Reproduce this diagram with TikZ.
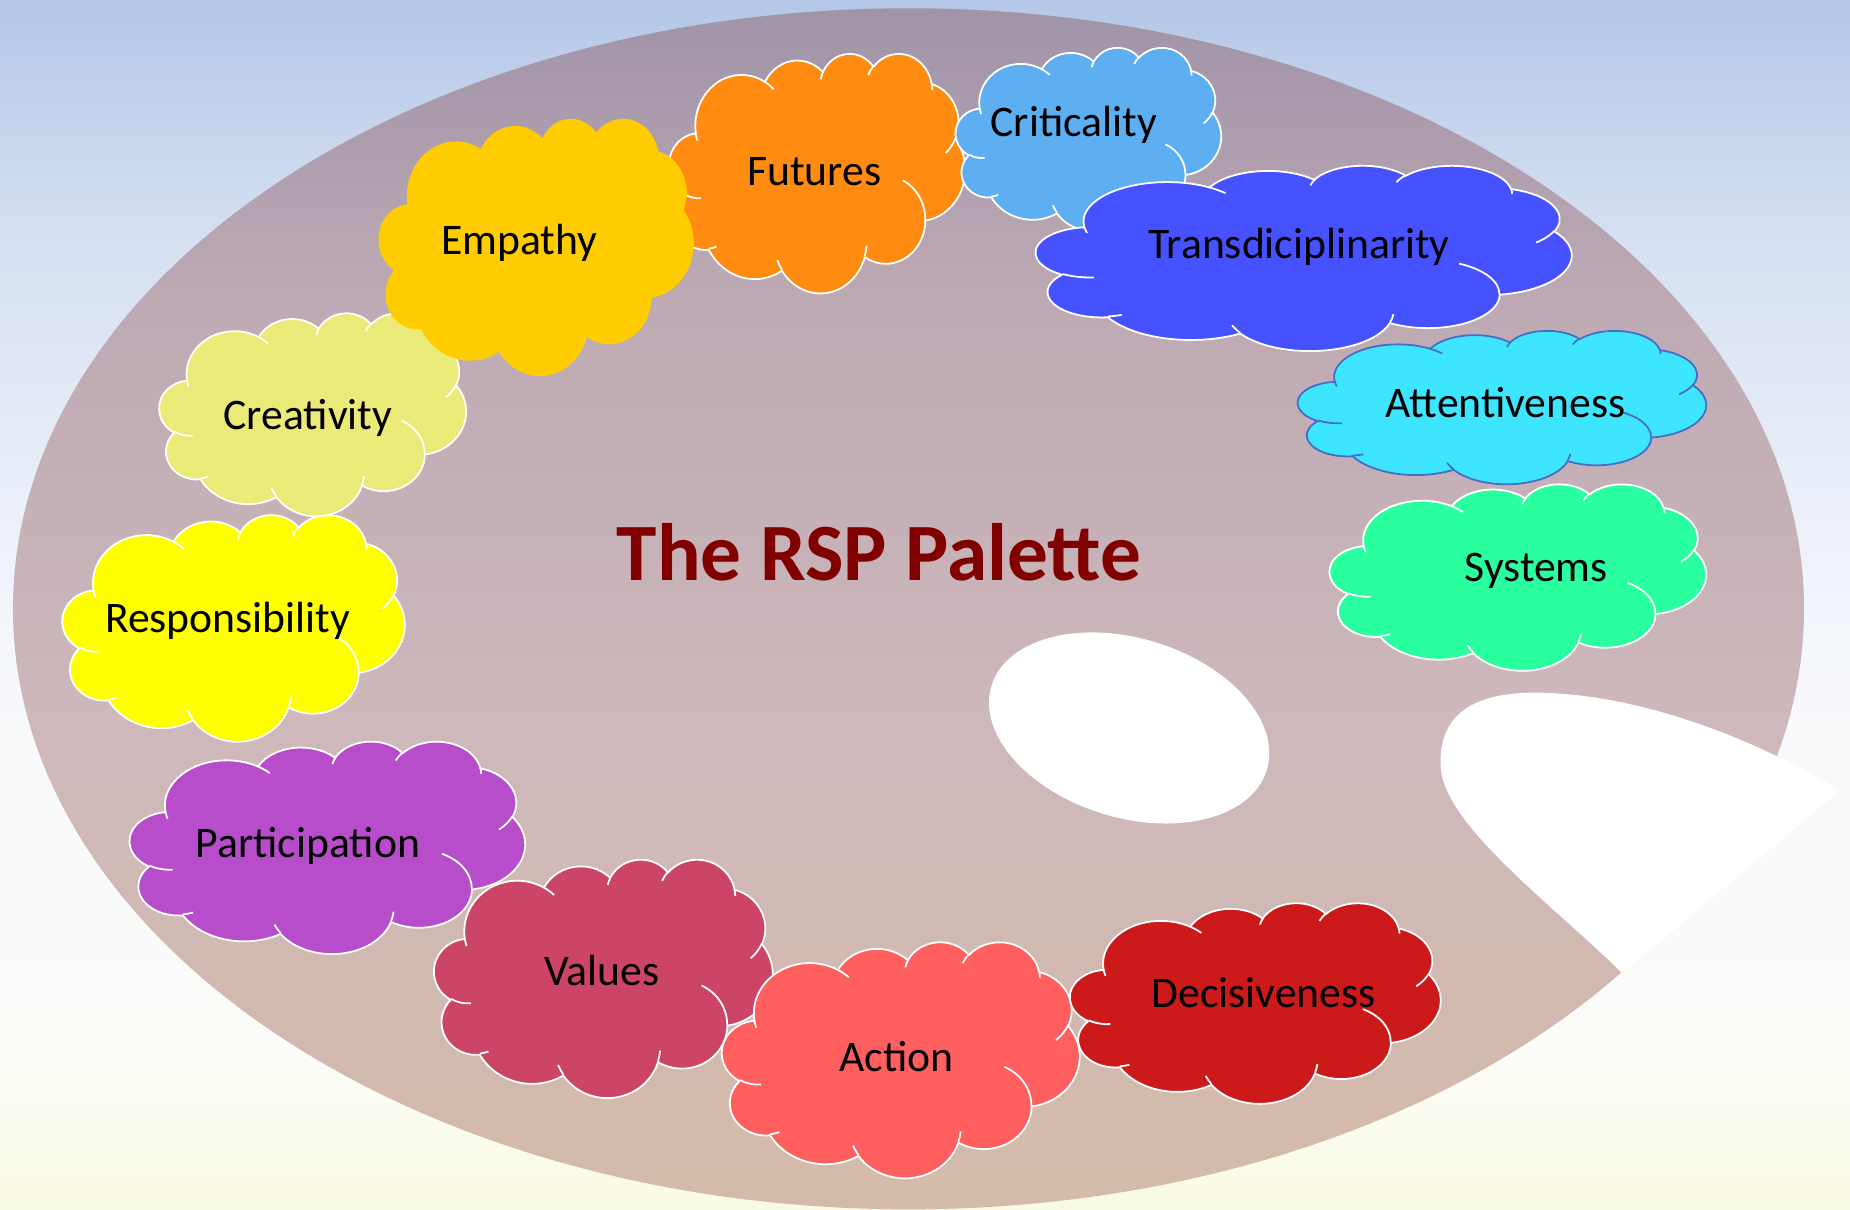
\documentclass[tikz,border=0pt]{standalone}
\usepackage{fontspec}
\setmainfont{Carlito}
\begin{document}
% colours
\definecolor{bgtop}{RGB}{181,199,231}
\definecolor{bgupper}{RGB}{214,224,242}
\definecolor{bgmid}{RGB}{246,248,252}
\definecolor{bglow}{RGB}{252,252,248}
\definecolor{bgbot}{RGB}{249,250,226}
\definecolor{paltop}{RGB}{160,148,168}
\definecolor{palupper}{RGB}{190,170,180}
\definecolor{palmid}{RGB}{206,184,187}
\definecolor{palbot}{RGB}{212,186,168}
\definecolor{cFutures}{RGB}{255,140,17}
\definecolor{cCrit}{RGB}{94,174,242}
\definecolor{cTrans}{RGB}{70,82,255}
\definecolor{cAtt}{RGB}{62,229,255}
\definecolor{cAttLine}{RGB}{70,110,200}
\definecolor{cSys}{RGB}{42,255,160}
\definecolor{cDec}{RGB}{204,26,26}
\definecolor{cAct}{RGB}{255,95,95}
\definecolor{cVal}{RGB}{204,68,102}
\definecolor{cPart}{RGB}{184,77,204}
\definecolor{cResp}{RGB}{255,255,0}
\definecolor{cCrea}{RGB}{234,234,120}
\definecolor{cEmp}{RGB}{255,204,0}
\definecolor{titlered}{RGB}{128,0,0}
% vertical blends (bottom to top; the 25bp..75bp band spans the filled shape)
\pgfdeclareverticalshading{sky}{100bp}{color(0bp)=(bgbot); color(25bp)=(bgbot);
  color(31bp)=(bglow); color(47.5bp)=(bgmid); color(65bp)=(bgupper);
  color(75bp)=(bgtop); color(100bp)=(bgtop)}
\pgfdeclareverticalshading{board}{100bp}{color(0bp)=(palbot); color(25bp)=(palbot);
  color(45bp)=(palmid); color(62.5bp)=(palupper); color(75bp)=(paltop);
  color(100bp)=(paltop)}
% one lobe of the cloud outline: radii, start angle and sweep (visual angles)
\newcommand\cldarc[4]{arc[start angle={atan2((#1)*sin(#3),(#2)*cos(#3))},
  delta angle={mod(atan2((#1)*sin((#3)+(#4)),(#2)*cos((#3)+(#4)))-atan2((#1)*sin(#3),(#2)*cos(#3))+720,360)},
  x radius=#1pt, y radius=#2pt]}
% cloud in a 432 x 432 frame, placed at top-left (#1,#2) with size #3 x #4
\newcommand\rspcloud[6]{%
  \begin{scope}[shift={(#1,#2)}, xscale={#3/432}, yscale={-#4/432}]
    \path[fill=#5, draw=#6, cloudline]
      (39pt,143.7pt) \cldarc{67.53}{91.90}{-190.4875}{123.7805}
      \cldarc{53.33}{72.67}{-144.1024}{89.9452}
      \cldarc{43.65}{59.45}{-145.8079}{99.7230}
      \cldarc{48.57}{65.95}{-130.9861}{117.2417}
      \cldarc{53.33}{72.73}{-78.7089}{109.0269}
      \cldarc{67.75}{92.20}{-46.2673}{130.2690}
      \cldarc{57.85}{78.67}{0.6250}{114.0333}
      \cldarc{67.52}{92.15}{22.4516}{115.1726}
      \cldarc{77.20}{105.43}{66.2426}{75.7110}
      \cldarc{43.60}{59.18}{-274.9421}{146.7356}
      \cldarc{43.45}{59.45}{-246.8285}{152.5189}
      -- cycle;
    \path[draw=#6, cloudline]
      (46.93pt,261.77pt) \cldarc{43.45}{59.45}{86.7420}{26.4295}
      (69.28pt,348.99pt) \cldarc{43.60}{59.18}{73.6105}{11.4475}
      (164.78pt,390.90pt) \cldarc{67.52}{92.15}{137.6242}{14.0811}
      (288.27pt,347.51pt) \cldarc{67.52}{92.15}{6.4533}{15.9984}
      (341.29pt,229.54pt) \cldarc{57.85}{78.67}{-70.2924}{70.9174}
      (417.98pt,153.54pt) \cldarc{53.33}{72.73}{30.3180}{27.7515}
      (383.24pt,54.26pt) \cldarc{48.57}{65.95}{-13.7443}{14.8589}
      (290.78pt,39.52pt) \cldarc{48.57}{65.95}{-149.1815}{18.1954}
      (221.41pt,47.20pt) \cldarc{43.65}{59.45}{-163.4943}{17.6864}
      (140.00pt,51.92pt) \cldarc{67.53}{91.90}{-66.7070}{12.3194}
      (41.27pt,157.89pt) \cldarc{67.53}{91.90}{157.6544}{11.8582};
  \end{scope}}
\begin{tikzpicture}[x=1pt, y=-1pt,
  cloudline/.style={line width=1.5pt, line join=round},
  lbl/.style={anchor=base, inner sep=0pt, font=\fontsize{37}{44}\selectfont, text=black},
  titlestyle/.style={anchor=base, inner sep=0pt, font=\fontsize{69}{80}\selectfont\bfseries, text=titlered}]
  \useasboundingbox (0,0) rectangle (1568,1025);
  % sky
  \shade[shading=sky] (0,0) rectangle (1568,1025);
  % palette board
  \shade[shading=board] (770,516) ellipse [x radius=759, y radius=509];
  % thumb hole
  \fill[white, rotate around={-17:(957,617)}] (957,617) ellipse [x radius=122, y radius=76];
  % notch cut into the right rim
  \fill[white] (1375,825) .. controls (1320,770) and (1224,700) .. (1221,650)
    .. controls (1219,608) and (1245,587) .. (1302,587)
    .. controls (1385,588) and (1480,622) .. (1560,670) -- cycle;
  % colour blobs
  \rspcloud{110}{628}{335}{180}{cPart}{white}
  \rspcloud{368}{728}{287}{202}{cVal}{white}
  \rspcloud{612}{798}{303}{200}{cAct}{white}
  \rspcloud{907}{765}{314}{170}{cDec}{white}
  \rspcloud{53}{436}{290}{192}{cResp}{white}
  \rspcloud{135}{265}{260}{172}{cCrea}{white}
  \rspcloud{567}{45}{251}{203}{cFutures}{white}
  \rspcloud{321}{100}{267}{218}{cEmp}{none}
  \rspcloud{810}{40}{225}{155}{cCrit}{white}
  \rspcloud{878}{140}{454}{157}{cTrans}{white}
  \rspcloud{1100}{280}{346}{130}{cAtt}{cAttLine}
  \rspcloud{1127}{410}{319}{158}{cSys}{white}
  % labels
  \node[lbl] (futures) at (690,157) {Futures};
  \node[lbl] (criticality) at (910,116) {Criticality};
  \node[lbl] (trans) at (1101,219) {Transdiciplinarity};
  \node[lbl] (attentiveness) at (1276,354) {Attentiveness};
  \node[lbl] (systems) at (1302,493) {Systems};
  \node[lbl] (decisiveness) at (1071,854) {Decisiveness};
  \node[lbl] (action) at (760,908) {Action};
  \node[lbl] (values) at (510,835) {Values};
  \node[lbl] (participation) at (261,727) {Participation};
  \node[lbl] (responsibility) at (193,536) {Responsibility};
  \node[lbl] (creativity) at (261,364) {Creativity};
  \node[lbl] (empathy) at (440,216) {Empathy};
  \node[titlestyle] (title) at (745,492) {The RSP Palette};
\end{tikzpicture}
\end{document}
